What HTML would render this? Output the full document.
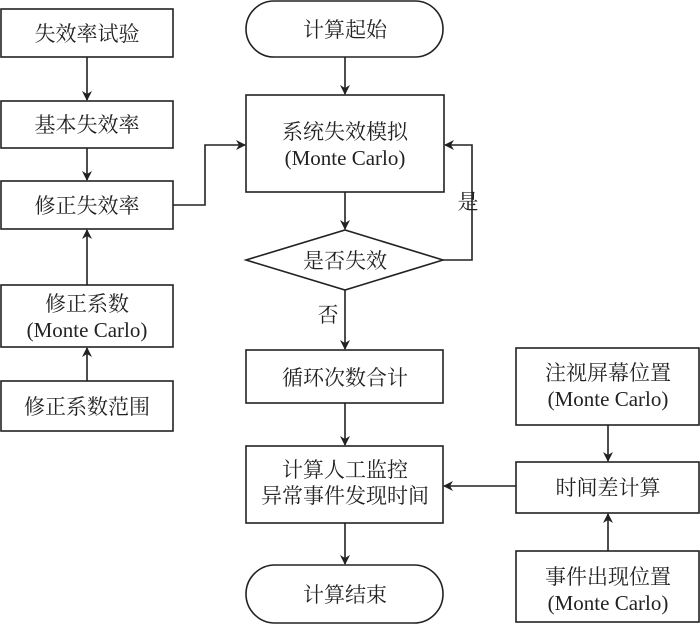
<!DOCTYPE html>
<html><head><meta charset="utf-8"><style>
body{margin:0;background:#fff}
svg text{font-family:"Liberation Serif","Noto Serif CJK SC","Noto Sans CJK SC",serif;font-size:21px;fill:#222}
</style></head><body>
<svg width="700" height="624" viewBox="0 0 700 624" xmlns="http://www.w3.org/2000/svg">
<defs><marker id="a" markerWidth="10" markerHeight="10" refX="9" refY="5" orient="auto" markerUnits="userSpaceOnUse"><path d="M0,0 L10,5 L0,10 L3,5z" fill="#222"/></marker></defs>
<g fill="none" stroke="#222" stroke-width="1.6">
<rect x="1" y="9" width="172" height="48"/>
<rect x="1" y="101" width="172" height="47"/>
<rect x="1" y="181" width="172" height="48"/>
<rect x="1" y="285" width="172" height="62"/>
<rect x="1" y="381" width="172" height="50"/>
<rect x="246" y="1" width="197" height="56" rx="28"/>
<rect x="246" y="95" width="198" height="97"/>
<path d="M246,260 L345,230 L443,260 L345,290 Z"/>
<rect x="246" y="350" width="197" height="53"/>
<rect x="246" y="446" width="197" height="77"/>
<rect x="246" y="565" width="197" height="58" rx="29"/>
<rect x="516" y="348" width="183" height="77"/>
<rect x="516" y="462" width="183" height="51"/>
<rect x="516" y="551" width="183" height="71"/>
<line x1="87" y1="57" x2="87" y2="100" marker-end="url(#a)"/>
<line x1="87" y1="148" x2="87" y2="180" marker-end="url(#a)"/>
<line x1="87" y1="285" x2="87" y2="230" marker-end="url(#a)"/>
<line x1="87" y1="381" x2="87" y2="348" marker-end="url(#a)"/>
<polyline points="173,205 205,205 205,145 245,145" marker-end="url(#a)"/>
<line x1="345" y1="57" x2="345" y2="94" marker-end="url(#a)"/>
<line x1="345" y1="192" x2="345" y2="229" marker-end="url(#a)"/>
<polyline points="443,260 472,260 472,145 445,145" marker-end="url(#a)"/>
<line x1="345" y1="290" x2="345" y2="349" marker-end="url(#a)"/>
<line x1="345" y1="403" x2="345" y2="445" marker-end="url(#a)"/>
<line x1="345" y1="523" x2="345" y2="564" marker-end="url(#a)"/>
<line x1="608" y1="425" x2="608" y2="461" marker-end="url(#a)"/>
<line x1="608" y1="551" x2="608" y2="514" marker-end="url(#a)"/>
<line x1="516" y1="486" x2="444" y2="486" marker-end="url(#a)"/>
</g>
<g text-anchor="middle">
<text x="87" y="41">失效率试验</text>
<text x="87" y="132">基本失效率</text>
<text x="87" y="213">修正失效率</text>
<text x="87" y="311">修正系数</text>
<text x="87" y="337">(Monte Carlo)</text>
<text x="87" y="414">修正系数范围</text>
<text x="345" y="37">计算起始</text>
<text x="345" y="139">系统失效模拟</text>
<text x="345" y="165">(Monte Carlo)</text>
<text x="345" y="268">是否失效</text>
<text x="468" y="209">是</text>
<text x="328" y="322">否</text>
<text x="345" y="385">循环次数合计</text>
<text x="345" y="477">计算人工监控</text>
<text x="345" y="503">异常事件发现时间</text>
<text x="345" y="602">计算结束</text>
<text x="608" y="380">注视屏幕位置</text>
<text x="608" y="406">(Monte Carlo)</text>
<text x="608" y="495">时间差计算</text>
<text x="608" y="584">事件出现位置</text>
<text x="608" y="610">(Monte Carlo)</text>
</g>
</svg>
</body></html>
